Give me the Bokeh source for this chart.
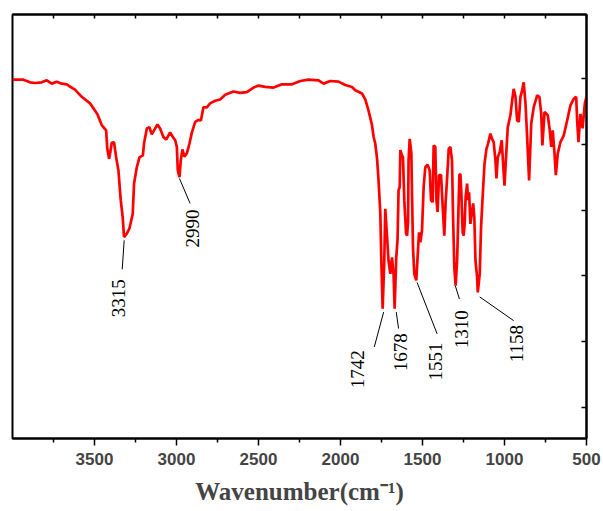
import math
from bokeh.plotting import figure
from bokeh.models import Range1d, LinearAxis, FixedTicker, ColumnDataSource
from bokeh.core.properties import value
from bokeh.embed import file_html
from bokeh.resources import INLINE

# FT-IR spectrum (wavenumber in cm-1, transmittance in arbitrary %T units)
wavenumber = [3999, 3934, 3893, 3863, 3822, 3791, 3761, 3730, 3700, 3669, 3653, 3619, 3578, 3527,
              3483, 3456, 3429, 3422, 3411, 3405, 3395, 3381, 3368, 3354, 3340, 3328, 3320, 3303,
              3287, 3267, 3259, 3242, 3226, 3205, 3198, 3181, 3165, 3151, 3137, 3116, 3100, 3080,
              3063, 3039, 3022, 3008, 2998, 2992, 2982, 2974, 2964, 2952, 2937, 2921, 2906, 2886,
              2866, 2851, 2836, 2815, 2795, 2764, 2734, 2703, 2653, 2612, 2571, 2530, 2500, 2459,
              2408, 2357, 2296, 2245, 2195, 2134, 2103, 2062, 2012, 1971, 1930, 1910, 1869, 1849,
              1829, 1808, 1798, 1788, 1777, 1768, 1757, 1751, 1743, 1733, 1727, 1716, 1707, 1696,
              1686, 1676, 1670, 1660, 1652, 1646, 1639, 1635, 1625, 1619, 1611, 1600, 1594, 1588,
              1585, 1578, 1568, 1564, 1558, 1550, 1538, 1530, 1521, 1513, 1503, 1493, 1483, 1469,
              1456, 1448, 1438, 1432, 1422, 1415, 1408, 1399, 1387, 1379, 1367, 1359, 1350, 1340,
              1330, 1320, 1314, 1306, 1298, 1289, 1283, 1275, 1269, 1263, 1255, 1249, 1243, 1237,
              1228, 1222, 1216, 1208, 1200, 1191, 1184, 1177, 1167, 1163, 1151, 1143, 1130, 1122,
              1110, 1100, 1086, 1076, 1066, 1055, 1049, 1041, 1029, 1017, 1008, 1000, 990, 980,
              964, 953, 944, 933, 923, 913, 903, 892, 883, 872, 862, 850, 837, 822, 801, 787,
              776, 769, 756, 736, 724, 715, 706, 695, 687, 675, 659, 639, 618, 598, 578, 563,
              557, 549, 537, 524, 510, 500]
transmittance = [59.8, 59.8, 59.4, 59.3, 59.4, 59.7, 59.2, 59.5, 59.2, 59.1, 58.8, 58.3, 57.2, 56.2,
                 54.6, 52.9, 52.1, 49.3, 47.8, 48.6, 50.2, 50.3, 48.0, 46.0, 41.5, 38.9, 35.9, 36.4,
                 37.2, 39.4, 44.0, 46.5, 48.0, 48.3, 50.1, 52.4, 52.6, 51.5, 52.1, 53.0, 52.4, 51.1,
                 50.7, 51.8, 51.1, 50.6, 49.6, 46.0, 45.0, 47.5, 49.2, 48.1, 48.6, 50.1, 51.8, 53.4,
                 53.7, 53.6, 55.6, 55.6, 56.2, 56.6, 56.8, 57.5, 58.0, 57.8, 57.9, 58.6, 58.9, 58.7,
                 58.6, 59.1, 59.1, 59.6, 59.8, 59.7, 59.2, 59.6, 59.5, 59.0, 58.7, 58.2, 57.7, 56.8,
                 55.1, 52.9, 51.1, 50.1, 47.8, 44.5, 39.4, 32.3, 25.0, 32.3, 40.2, 35.9, 32.3, 30.3,
                 32.8, 30.1, 25.0, 32.8, 35.6, 43.0, 43.5, 49.1, 48.3, 48.0, 41.5, 36.4, 36.1, 38.4,
                 47.5, 50.8, 48.6, 42.5, 34.4, 30.3, 29.3, 32.8, 36.6, 35.1, 36.9, 43.5, 46.5, 46.9,
                 46.0, 41.5, 41.2, 49.8, 49.6, 41.5, 39.7, 45.3, 45.3, 41.5, 36.1, 41.2, 44.8, 49.3,
                 49.6, 47.5, 39.4, 31.3, 28.5, 32.3, 37.9, 45.3, 45.5, 42.5, 36.6, 36.1, 37.9, 42.0,
                 44.0, 41.5, 42.7, 37.9, 39.4, 41.0, 38.9, 32.3, 29.8, 27.5, 30.3, 37.4, 43.5, 47.0,
                 49.3, 50.1, 51.6, 50.8, 50.3, 47.5, 44.8, 48.0, 48.8, 50.6, 46.8, 43.7, 48.3, 52.6,
                 54.4, 56.7, 58.4, 57.2, 53.6, 53.4, 57.2, 58.2, 59.4, 56.2, 51.1, 44.5, 53.1, 55.6,
                 57.4, 57.2, 54.6, 49.8, 54.9, 54.4, 52.1, 49.6, 52.1, 48.6, 45.3, 48.6, 50.3, 51.3,
                 53.6, 55.9, 56.9, 57.2, 53.6, 50.3, 54.6, 52.4, 56.2, 57.2]

# Peak annotations
peak_labels = ["3315", "2990", "1742", "1678", "1551", "1310", "1158"]
label_x = [3356, 2905, 1898, 1635, 1422, 1263, 927]
label_y = [26.6, 37.2, 15.8, 18.4, 17.0, 21.9, 19.7]
leader_x0 = [3319, 2982, 1737, 1660, 1533, 1300, 1151]
leader_y0 = [35.4, 44.8, 24.5, 24.5, 29.0, 28.5, 26.8]
leader_x1 = [3331, 2917, 1794, 1646, 1411, 1275, 944]
leader_y1 = [31.0, 41.0, 19.2, 22.0, 21.2, 26.5, 23.2]

x_major = [500, 1000, 1500, 2000, 2500, 3000, 3500]
x_minor = [750, 1250, 1750, 2250, 2750, 3250, 3750]
y_ticks = [10, 20, 30, 40, 50, 60]

p = figure(width=603, height=511, output_backend="svg", toolbar_location=None,
           x_range=Range1d(4000, 500), y_range=Range1d(5.3, 69.7),
           y_axis_location="right",
           min_border_left=12, min_border_right=17, min_border_top=14, min_border_bottom=73)
p.grid.visible = False
p.outline_line_color = "black"
p.outline_line_width = 2
p.background_fill_color = "white"
p.border_fill_color = "white"

p.line(wavenumber, transmittance, line_color="#ff0000", line_width=2.7)

src = ColumnDataSource(dict(x=label_x, y=label_y, t=peak_labels,
                            x0=leader_x0, y0=leader_y0, x1=leader_x1, y1=leader_y1))
p.segment(x0="x0", y0="y0", x1="x1", y1="y1", source=src, line_color="black", line_width=1)
p.text(x="x", y="y", text="t", source=src, angle=math.pi / 2,
       text_align="center", text_baseline="middle",
       text_font=value("Liberation Serif"), text_font_size="19px", text_color="black")

xa = p.xaxis[0]
xa.ticker = FixedTicker(ticks=x_major, minor_ticks=x_minor)
xa.major_tick_in = 0
xa.major_tick_out = 7
xa.minor_tick_in = 0
xa.minor_tick_out = 4
xa.major_tick_line_width = 1.5
xa.minor_tick_line_width = 1.5
xa.axis_line_width = 2
xa.major_label_text_font = "Liberation Sans"
xa.major_label_text_font_style = "bold"
xa.major_label_text_font_size = "17px"
xa.major_label_standoff = 7
xa.axis_label = "Wavenumber(cm\u207b\u00b9)"
xa.axis_label_text_font = "Liberation Serif"
xa.axis_label_text_font_style = "bold"
xa.axis_label_text_font_size = "25px"
xa.axis_label_standoff = 10

ya = p.yaxis[0]
ya.ticker = FixedTicker(ticks=y_ticks, minor_ticks=[])
ya.major_tick_in = 5
ya.major_tick_out = 0
ya.major_tick_line_width = 1.5
ya.axis_line_width = 2
ya.major_label_overrides = {t: "" for t in y_ticks}
ya.major_label_standoff = 0

top_ticks = sorted(x_major + x_minor)
top = LinearAxis(ticker=FixedTicker(ticks=top_ticks, minor_ticks=[]))
top.major_tick_in = 4
top.major_tick_out = 0
top.major_tick_line_width = 1.5
top.axis_line_width = 2
top.major_label_overrides = {t: "" for t in top_ticks}
top.major_label_standoff = 0
p.add_layout(top, "above")

open("out.html", "w").write(file_html(p, INLINE))
